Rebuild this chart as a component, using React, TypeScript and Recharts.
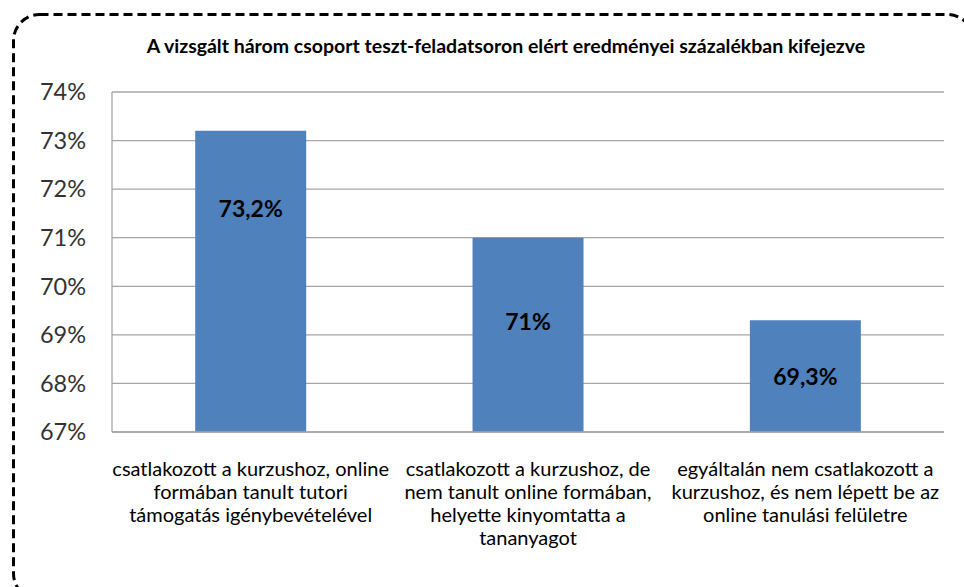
import React from 'react';
import {
  BarChart,
  Bar,
  XAxis,
  YAxis,
  CartesianGrid,
  LabelList,
} from 'recharts';

const categories = [
  'csatlakozott a kurzushoz, online\nformában tanult tutori\ntámogatás igénybevételével',
  'csatlakozott a kurzushoz, de\nnem tanult online formában,\nhelyette kinyomtatta a\ntananyagot',
  'egyáltalán nem csatlakozott a\nkurzushoz, és nem lépett be az\nonline tanulási felületre',
];
const scores = [73.2, 71, 69.3];
const scoreLabels = ['73,2%', '71%', '69,3%'];
const yTicks = [67, 68, 69, 70, 71, 72, 73, 74];

const title =
  'A vizsgált három csoport teszt-feladatsoron elért eredményei százalékban kifejezve';

// how far below the top of each bar its label sits (px)
const labelDrop = [77, 83, 56];

const FONT = 'Lato, "Open Sans", sans-serif';

const data = categories.map((name, i) => ({
  name,
  value: scores[i],
  label: scoreLabels[i],
}));

function CategoryTick({ x, y, payload }: any) {
  const lines = String(payload.value).split('\n');
  return (
    <text
      x={x}
      y={y + 36}
      textAnchor="middle"
      fontFamily={FONT}
      fontSize={20}
      fill="#000"
    >
      {lines.map((line, i) => (
        <tspan key={i} x={x} dy={i === 0 ? 0 : 23}>
          {line}
        </tspan>
      ))}
    </text>
  );
}

function ValueLabel({ x, y, width, index }: any) {
  return (
    <text
      x={x + width / 2}
      y={y + labelDrop[index]}
      textAnchor="middle"
      dominantBaseline="central"
      fontFamily={FONT}
      fontSize={23}
      fontWeight="bold"
      fill="#000"
    >
      {scoreLabels[index]}
    </text>
  );
}

export default function App() {
  return (
    <div
      style={{
        position: 'fixed',
        left: 0,
        top: 0,
        width: 964,
        height: 587,
        overflow: 'hidden',
        background: '#fff',
      }}
    >
      <svg
        width={964}
        height={587}
        style={{ position: 'absolute', left: 0, top: 0 }}
      >
        <rect
          x={13.5}
          y={14.5}
          width={960}
          height={585}
          rx={26}
          ry={26}
          fill="none"
          stroke="#000"
          strokeWidth={3}
          strokeDasharray="9 5"
        />
        <text
          x={506}
          y={45}
          textAnchor="middle"
          dominantBaseline="central"
          fontFamily={FONT}
          fontSize={19.5}
          fontWeight="bold"
          fill="#000"
        >
          {title}
        </text>
      </svg>
      <div style={{ position: 'absolute', left: 0, top: 0 }}>
        <BarChart
          width={964}
          height={587}
          data={data}
          margin={{ top: 92, right: 20, bottom: 0, left: 0 }}
          barCategoryGap="30%"
        >
          <CartesianGrid vertical={false} stroke="#a6a6a6" strokeWidth={1.3} />
          <XAxis
            dataKey="name"
            height={155}
            tick={<CategoryTick />}
            tickLine={false}
            axisLine={{ stroke: '#a6a6a6', strokeWidth: 1.3 }}
            interval={0}
          />
          <YAxis
            width={112}
            domain={[67, 74]}
            ticks={yTicks}
            allowDataOverflow
            tickFormatter={(v: number) => `${v}%`}
            tick={{ fontSize: 23.5, fill: '#333', fontFamily: FONT }}
            tickLine={false}
            tickMargin={20}
            axisLine={{ stroke: '#a6a6a6', strokeWidth: 1.3 }}
          />
          <Bar dataKey="value" fill="#4f81bd" isAnimationActive={false}>
            <LabelList dataKey="label" content={<ValueLabel />} />
          </Bar>
        </BarChart>
      </div>
    </div>
  );
}
